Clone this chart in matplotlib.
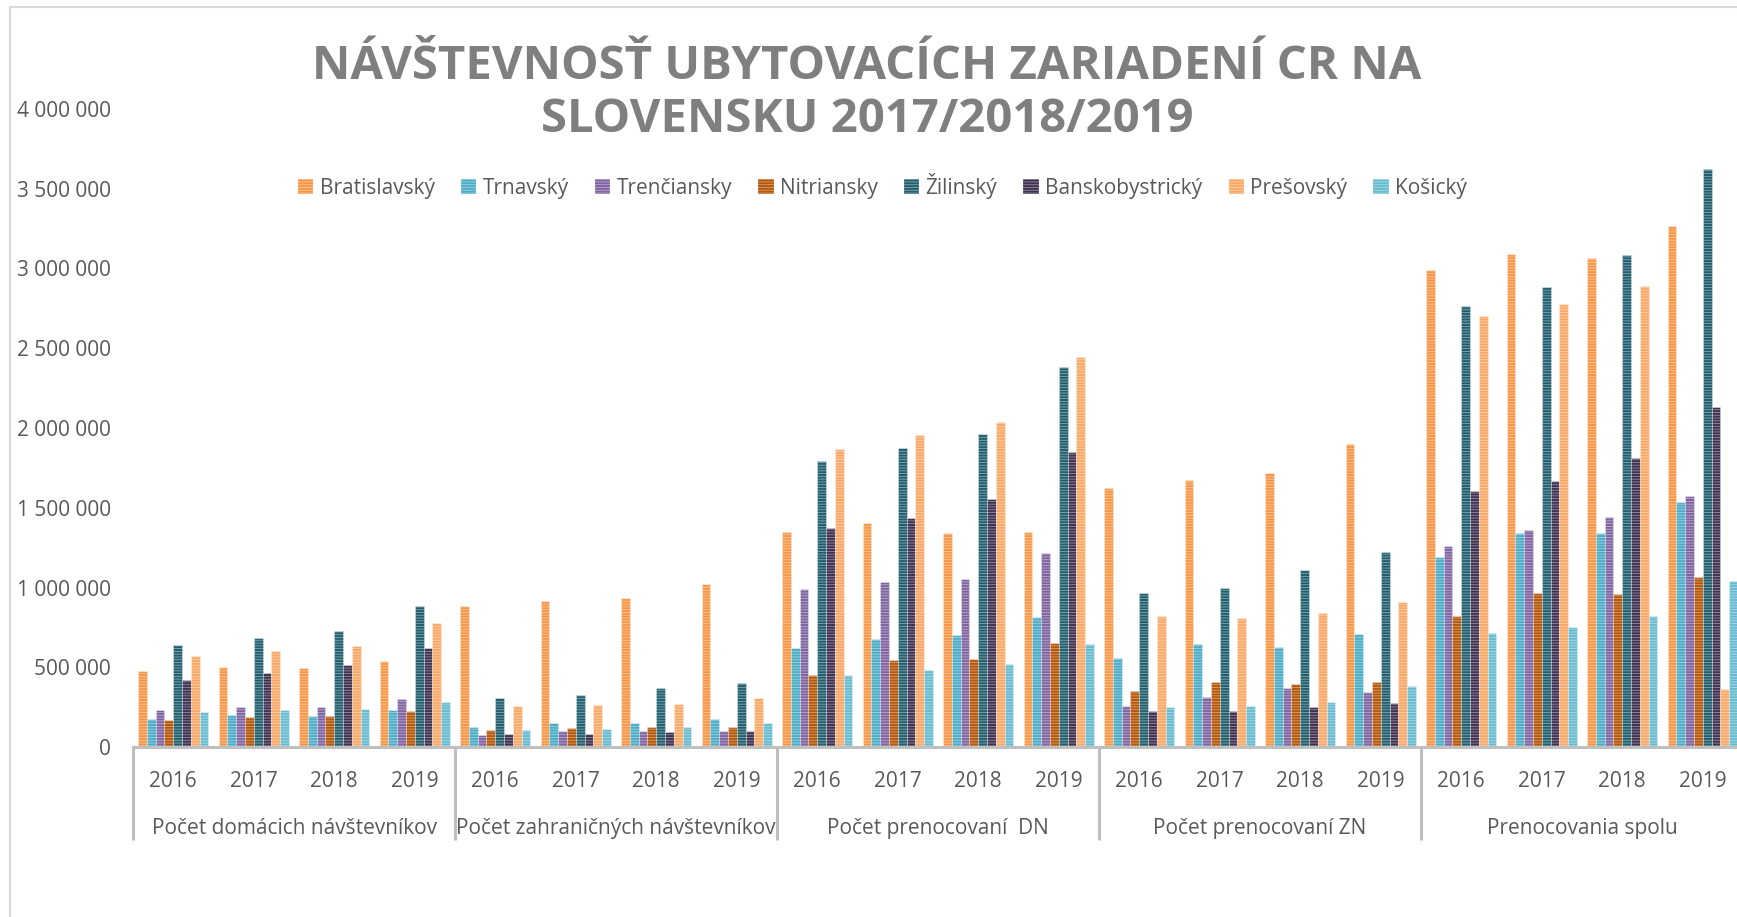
import matplotlib
matplotlib.use("Agg")
import matplotlib.pyplot as plt
from matplotlib import font_manager
from matplotlib.patches import Patch
from matplotlib.lines import Line2D

# Data (hodnoty odčítané z grafu)

regions = ["Bratislavský", "Trnavský", "Trenčiansky", "Nitriansky",
           "Žilinský", "Banskobystrický", "Prešovský", "Košický"]
years = ["2016", "2017", "2018", "2019"]
groups = ["Počet domácich návštevníkov", "Počet zahraničných návštevníkov",
          "Počet prenocovaní  DN", "Počet prenocovaní ZN", "Prenocovania spolu"]

bratislavsky = [479, 504, 498, 542, 881, 917, 935, 1021, 1348, 1402, 1340, 1348,
                1625, 1671, 1717, 1902, 2988, 3091, 3068, 3265]
trnavsky = [173, 198, 196, 233, 123, 148, 148, 177, 623, 679, 704, 817,
            558, 648, 625, 708, 1193, 1341, 1341, 1535]
trenciansky = [229, 250, 250, 298, 73, 98, 98, 98, 992, 1035, 1056, 1215,
               260, 315, 373, 344, 1263, 1359, 1442, 1572]
nitriansky = [171, 188, 192, 227, 108, 117, 123, 123, 450, 546, 550, 652,
              354, 410, 396, 406, 820, 967, 960, 1068]
zilinsky = [642, 683, 729, 885, 310, 329, 369, 404, 1792, 1873, 1960, 2385,
            963, 998, 1110, 1221, 2765, 2884, 3083, 3623]
banskobystricky = [423, 465, 515, 619, 79, 83, 92, 102, 1371, 1438, 1552, 1848,
                   223, 223, 252, 273, 1605, 1670, 1815, 2134]
presovsky = [573, 604, 635, 777, 258, 265, 271, 310, 1867, 1954, 2035, 2446,
             821, 810, 842, 910, 2700, 2780, 2889, 366]
kosicky = [221, 233, 240, 285, 104, 113, 125, 148, 454, 483, 523, 648,
           252, 256, 285, 385, 713, 752, 820, 1043]

series = [bratislavsky, trnavsky, trenciansky, nitriansky,
          zilinsky, banskobystricky, presovsky, kosicky]
colors = ["#F79646", "#4BACC6", "#8064A2", "#B65708",
          "#215F6E", "#3F3151", "#F9A866", "#66BBD0"]

# Písmo
available = {f.name for f in font_manager.fontManager.ttflist}
if "Liberation Sans Narrow" in available:
    main_font = "Liberation Sans Narrow"
    fs_tick, fs_leg, fs_title = 18, 18, 38
else:
    main_font = "Open Sans"
    fs_tick, fs_leg, fs_title = 15, 15, 34
plt.rcParams["font.family"] = [main_font, "DejaVu Sans"]
plt.rcParams["hatch.linewidth"] = 0.6

text_color = "#595959"
axis_color = "#BFBFBF"
stripe = (1, 1, 1, 0.45)

W, H = 1737, 917
fig = plt.figure(figsize=(W / 100, H / 100), dpi=100)
ax = fig.add_axes([133 / W, (H - 747) / H, 1610 / W, 638 / H])

n_series = len(series)
slot_fill = 0.87
bar_w = slot_fill / n_series
x_slots = list(range(len(groups) * len(years)))

for i, (name, vals, col) in enumerate(zip(regions, series, colors)):
    xs = [x + 0.5 - slot_fill / 2 + bar_w * (i + 0.5) for x in x_slots]
    ax.bar(xs, [v * 1000 for v in vals], width=bar_w, color=col,
           edgecolor=stripe, linewidth=0.5, hatch="------", label=name)

ax.set_xlim(0, len(x_slots))
ax.set_ylim(0, 4000000)

yt = list(range(0, 4000001, 500000))
ax.set_yticks(yt)
ax.set_yticklabels([f"{v:,}".replace(",", " ") for v in yt])
ax.tick_params(axis="y", length=0, pad=16, labelsize=fs_tick, labelcolor=text_color)

ax.set_xticks([x + 0.5 for x in x_slots])
ax.set_xticklabels(years * len(groups))
ax.tick_params(axis="x", length=0, pad=17, labelsize=fs_tick, labelcolor=text_color)

for side in ["top", "right", "left"]:
    ax.spines[side].set_visible(False)
ax.spines["bottom"].set_color(axis_color)
ax.spines["bottom"].set_linewidth(2.2)

# Oddeľovače skupín a názvy skupín
trans = ax.get_xaxis_transform()
for g in range(len(groups) + 1):
    ax.plot([g * 4, g * 4], [0, -0.146], transform=trans, color=axis_color,
            linewidth=2.2, clip_on=False, solid_capstyle="butt")
for g, name in enumerate(groups):
    ax.text(g * 4 + 2, -0.127, name, transform=trans, ha="center", va="center",
            fontsize=fs_tick, color=text_color)

# Nadpis
fig.text(0.499, 1 - 93 / H, "NÁVŠTEVNOSŤ UBYTOVACÍCH ZARIADENÍ CR NA\nSLOVENSKU 2017/2018/2019",
         ha="center", va="center", fontsize=fs_title, fontweight="bold",
         color="#7F7F7F", linespacing=1.15)

# Legenda
handles = [Patch(facecolor=c, edgecolor=stripe, hatch="------", linewidth=0.3) for c in colors]
fig.legend(handles, regions, loc="center", bbox_to_anchor=(0.508, 1 - 186 / H),
           ncol=8, frameon=False, fontsize=fs_leg, labelcolor=text_color,
           handlelength=0.75, handleheight=0.75, handletextpad=0.3, columnspacing=1.25)

# Rám grafu
fig.add_artist(Line2D([10 / W, 10 / W], [0, 1 - 7 / H], color="#D9D9D9", linewidth=1.5))
fig.add_artist(Line2D([10 / W, 1], [1 - 7 / H, 1 - 7 / H], color="#D9D9D9", linewidth=1.5))

fig.savefig("out.png", dpi=100)
